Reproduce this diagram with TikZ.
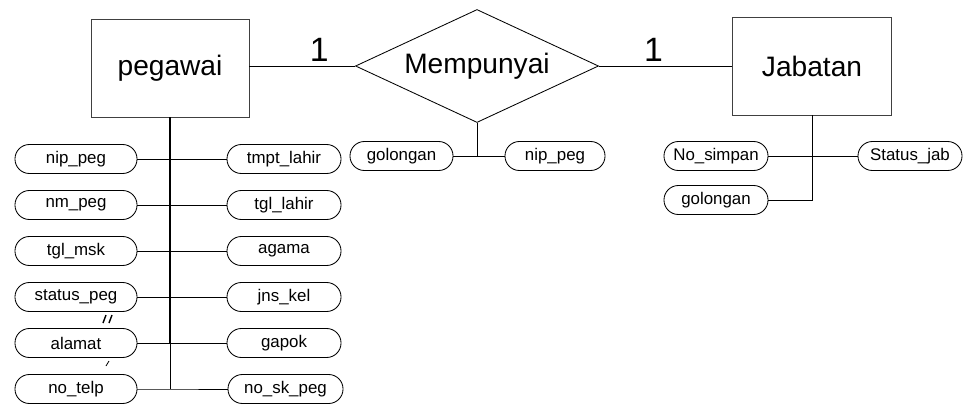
\documentclass[tikz,border=0pt]{standalone}
\usepackage{fontspec}
\setmainfont{Liberation Sans}
\usetikzlibrary{shapes.geometric, positioning}

\begin{document}
\begin{tikzpicture}[x=0.025cm, y=-0.025cm, line width=0.6pt,
  entity/.style={draw=black!75, minimum width=3.95cm, minimum height=2.45cm, inner sep=0pt, font=\fontsize{20}{24}\selectfont},
  relasi/.style={draw, diamond, aspect=2.15, minimum width=6.075cm, minimum height=2.825cm, inner sep=0pt, font=\fontsize{20}{24}\selectfont},
  atribut/.style={draw, rounded corners=0.36cm, minimum height=0.725cm, inner sep=0pt, font=\fontsize{12}{14}\selectfont},
  kiri/.style={atribut, minimum width=3.05cm},
  kanan/.style={atribut, minimum width=2.85cm},
  card/.style={font=\fontsize{24}{28}\selectfont, inner sep=1pt}]
  \useasboundingbox (0,0) rectangle (970,408);

  % entitas dan relasi
  \node[entity] (pegawai) at (170,68) {pegawai};
  \node[relasi] (punya) at (477,66) {Mempunyai};
  \node[entity, minimum width=3.975cm] (jabatan) at (812,66) {Jabatan};
  \draw (pegawai.east |- punya.west) -- node[card, pos=0.66, above=2pt] {1} (punya.west);
  \draw (punya.east) -- node[card, pos=0.41, above=2pt] {1} (jabatan.west |- punya.east);

  % atribut pegawai
  \node[kiri] (nippeg) at (76,159) {nip\_peg};
  \node[kiri] (nmpeg) at (76,205) {nm\_peg};
  \node[kiri] (tglmsk) at (76,251) {tgl\_msk};
  \node[kiri] (statuspeg) at (76,297) {status\_peg};
  \node[kiri] (alamat) at (76,343) {alamat};
  \node[kiri] (notelp) at (76,389) {no\_telp};
  \node[kanan] (tmptlahir) at (284,159) {tmpt\_lahir};
  \node[kanan] (tgllahir) at (284,205) {tgl\_lahir};
  \node[kanan] (agama) at (284,251) {agama};
  \node[kanan] (jnskel) at (284,297) {jns\_kel};
  \node[kanan] (gapok) at (284,343) {gapok};
  \node[kanan, minimum width=2.875cm] (noskpeg) at (285.5,389) {no\_sk\_peg};
  \coordinate (pegtengah) at (pegawai.south |- alamat);
  \coordinate (pegujung) at (pegawai.south |- notelp);
  \draw[line width=1.6pt] (pegawai.south) -- (pegtengah);
  \draw (pegtengah) -- (pegujung);
  \foreach \a/\b in {nippeg/tmptlahir, nmpeg/tgllahir, tglmsk/agama, statuspeg/jnskel, alamat/gapok}
    \draw (\a.east) -- (\b.west);
  \draw (notelp.east) -- (pegujung) -- (noskpeg.west);
  % goresan kecil
  \draw[line width=1pt] (103,323) -- (106,315) (109,323) -- (112,315);
  \draw (106,366) -- (109,361);

  % atribut relasi
  \node[atribut, minimum width=2.575cm] (golrel) at (401.5,156) {golongan};
  \node[atribut, minimum width=2.5cm] (niprel) at (555,156) {nip\_peg};
  \draw (punya.south) -- (punya.south |- golrel);
  \draw (golrel.east) -- (niprel.west);

  % atribut jabatan
  \node[atribut, minimum width=2.6cm] (nosimpan) at (716,156) {No\_simpan};
  \node[atribut, minimum width=2.6cm] (statusjab) at (910,156) {Status\_jab};
  \node[atribut, minimum width=2.6cm] (goljab) at (716,200) {golongan};
  \draw (jabatan.south) -- (jabatan.south |- goljab) -- (goljab.east);
  \draw (nosimpan.east) -- (statusjab.west);
\end{tikzpicture}
\end{document}
